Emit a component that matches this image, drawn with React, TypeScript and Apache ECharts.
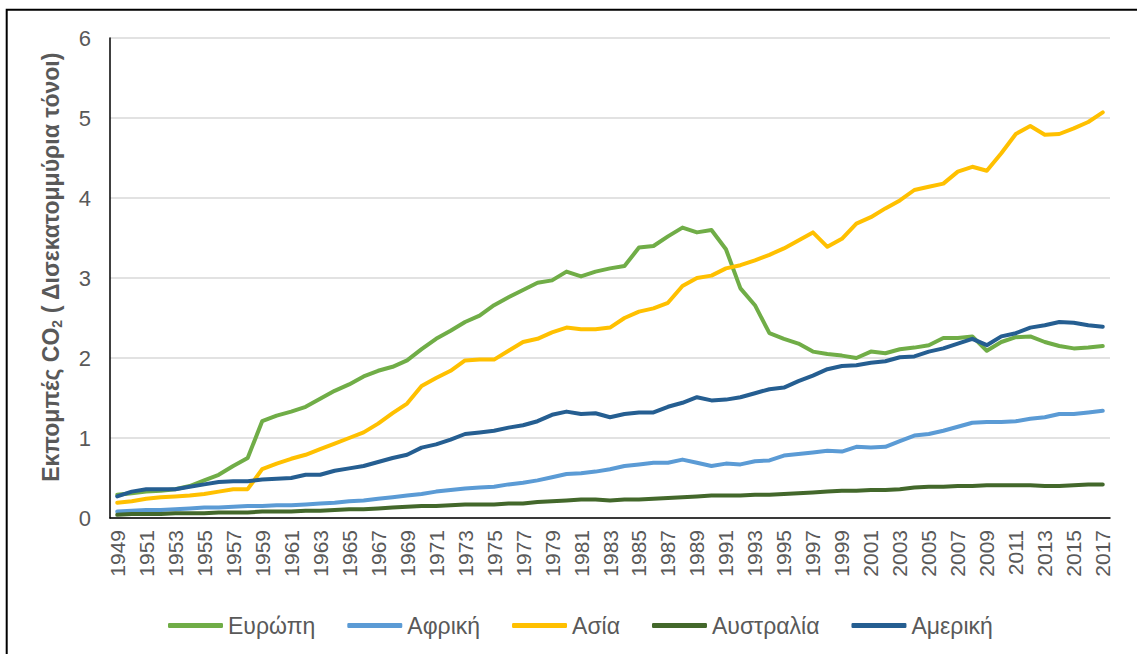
import React, { useEffect, useRef } from "react";
import * as echarts from "echarts";

const years: string[] = [];
for (let y = 1949; y <= 2017; y++) years.push(String(y));

const europe = [
  0.29, 0.31, 0.33, 0.34, 0.36, 0.40, 0.47, 0.54, 0.65, 0.75,
  1.21, 1.28, 1.33, 1.39, 1.49, 1.59, 1.67, 1.77, 1.84, 1.89,
  1.97, 2.11, 2.24, 2.34, 2.45, 2.53, 2.66, 2.76, 2.85, 2.94,
  2.97, 3.08, 3.02, 3.08, 3.12, 3.15, 3.38, 3.40, 3.52, 3.63,
  3.57, 3.60, 3.36, 2.87, 2.66, 2.31, 2.24, 2.18, 2.08, 2.05,
  2.03, 2.00, 2.08, 2.06, 2.11, 2.13, 2.16, 2.25, 2.25, 2.27,
  2.09, 2.20, 2.26, 2.27, 2.20, 2.15, 2.12, 2.13, 2.15,
];

const africa = [
  0.08, 0.09, 0.10, 0.10, 0.11, 0.12, 0.13, 0.13, 0.14, 0.15,
  0.15, 0.16, 0.16, 0.17, 0.18, 0.19, 0.21, 0.22, 0.24, 0.26,
  0.28, 0.30, 0.33, 0.35, 0.37, 0.38, 0.39, 0.42, 0.44, 0.47,
  0.51, 0.55, 0.56, 0.58, 0.61, 0.65, 0.67, 0.69, 0.69, 0.73,
  0.69, 0.65, 0.68, 0.67, 0.71, 0.72, 0.78, 0.80, 0.82, 0.84,
  0.83, 0.89, 0.88, 0.89, 0.96, 1.03, 1.05, 1.09, 1.14, 1.19,
  1.20, 1.20, 1.21, 1.24, 1.26, 1.30, 1.30, 1.32, 1.34,
];

const asia = [
  0.19, 0.21, 0.24, 0.26, 0.27, 0.28, 0.30, 0.33, 0.36, 0.36,
  0.61, 0.68, 0.74, 0.79, 0.86, 0.93, 1.00, 1.07, 1.18, 1.31,
  1.43, 1.65, 1.75, 1.84, 1.97, 1.98, 1.98, 2.09, 2.20, 2.24,
  2.32, 2.38, 2.36, 2.36, 2.38, 2.50, 2.58, 2.62, 2.69, 2.90,
  3.00, 3.03, 3.12, 3.16, 3.22, 3.29, 3.37, 3.47, 3.57, 3.39,
  3.49, 3.68, 3.76, 3.87, 3.97, 4.10, 4.14, 4.18, 4.33, 4.39,
  4.34, 4.56, 4.80, 4.90, 4.79, 4.80, 4.87, 4.95, 5.07,
];

const australia = [
  0.04, 0.05, 0.05, 0.05, 0.06, 0.06, 0.06, 0.07, 0.07, 0.07,
  0.08, 0.08, 0.08, 0.09, 0.09, 0.10, 0.11, 0.11, 0.12, 0.13,
  0.14, 0.15, 0.15, 0.16, 0.17, 0.17, 0.17, 0.18, 0.18, 0.20,
  0.21, 0.22, 0.23, 0.23, 0.22, 0.23, 0.23, 0.24, 0.25, 0.26,
  0.27, 0.28, 0.28, 0.28, 0.29, 0.29, 0.30, 0.31, 0.32, 0.33,
  0.34, 0.34, 0.35, 0.35, 0.36, 0.38, 0.39, 0.39, 0.40, 0.40,
  0.41, 0.41, 0.41, 0.41, 0.40, 0.40, 0.41, 0.42, 0.42,
];

const america = [
  0.27, 0.33, 0.36, 0.36, 0.36, 0.39, 0.42, 0.45, 0.46, 0.46,
  0.48, 0.49, 0.50, 0.54, 0.54, 0.59, 0.62, 0.65, 0.70, 0.75,
  0.79, 0.88, 0.92, 0.98, 1.05, 1.07, 1.09, 1.13, 1.16, 1.21,
  1.29, 1.33, 1.30, 1.31, 1.26, 1.30, 1.32, 1.32, 1.39, 1.44,
  1.51, 1.47, 1.48, 1.51, 1.56, 1.61, 1.63, 1.71, 1.78, 1.86,
  1.90, 1.91, 1.94, 1.96, 2.01, 2.02, 2.08, 2.12, 2.18, 2.24,
  2.16, 2.27, 2.31, 2.38, 2.41, 2.45, 2.44, 2.41, 2.39,
];

const seriesNames = ["Ευρώπη", "Αφρική", "Ασία", "Αυστραλία", "Αμερική"];
const seriesData = [europe, africa, asia, australia, america];
const seriesColors = ["#70AD47", "#5B9BD5", "#FFC000", "#43682B", "#255E91"];

const FONT = "'Liberation Sans', Arial, sans-serif";

export default function App() {
  const ref = useRef<HTMLDivElement>(null);
  useEffect(() => {
    if (!ref.current) return;
    const chart = echarts.init(ref.current, null, { renderer: "svg" });
    chart.setOption({
      animation: false,
      backgroundColor: "#ffffff",
      textStyle: { fontFamily: FONT },
      grid: { left: 110, right: 27, top: 38, bottom: 136, containLabel: false },
      legend: {
        data: seriesNames,
        left: 163,
        top: 609,
        icon: "roundRect",
        itemWidth: 55,
        itemHeight: 5,
        itemGap: 32,
        textStyle: { fontSize: 23, color: "#595959", fontFamily: FONT },
      },
      xAxis: {
        type: "category",
        data: years,
        boundaryGap: true,
        axisLine: { show: true, lineStyle: { color: "#000000", width: 1.5 } },
        axisTick: { show: false },
        axisLabel: {
          interval: 1,
          rotate: 90,
          fontSize: 21,
          color: "#595959",
          margin: 12,
          fontFamily: FONT,
        },
        splitLine: { show: false },
      },
      yAxis: {
        type: "value",
        min: 0,
        max: 6,
        interval: 1,
        axisLine: { show: true, lineStyle: { color: "#000000", width: 1.5 } },
        axisTick: { show: false },
        axisLabel: { fontSize: 22, color: "#595959", margin: 19, fontFamily: FONT },
        splitLine: { show: true, lineStyle: { color: "#d9d9d9", width: 1.5 } },
      },
      graphic: [
        {
          type: "rect",
          shape: { x: 6.7, y: 9.7, width: 1300, height: 800 },
          style: { fill: "none", stroke: "#000000", lineWidth: 2 },
          silent: true,
        },
        {
          type: "text",
          x: 51,
          y: 267,
          rotation: Math.PI / 2,
          style: {
            text: "{b|Εκπομπές CO}{s|2}{b| ( Δισεκατομμύρια τόνοι)}",
            align: "center",
            verticalAlign: "middle",
            rich: {
              b: {
                fontSize: 23,
                fontWeight: "bold",
                fill: "#595959",
                fontFamily: FONT,
                lineHeight: 26,
              },
              s: {
                fontSize: 14,
                fontWeight: "bold",
                fill: "#595959",
                fontFamily: FONT,
                lineHeight: 14,
                verticalAlign: "bottom",
              },
            },
          },
        },
      ],
      series: seriesNames.map((name, i) => ({
        name,
        type: "line",
        data: seriesData[i],
        symbol: "none",
        color: seriesColors[i],
        lineStyle: { width: 4, color: seriesColors[i], cap: "round", join: "round" },
        z: 2 + i,
      })),
    });
    return () => chart.dispose();
  }, []);
  return (
    <div
      ref={ref}
      style={{ position: "fixed", left: 0, top: 0, width: 1137, height: 654 }}
    />
  );
}
